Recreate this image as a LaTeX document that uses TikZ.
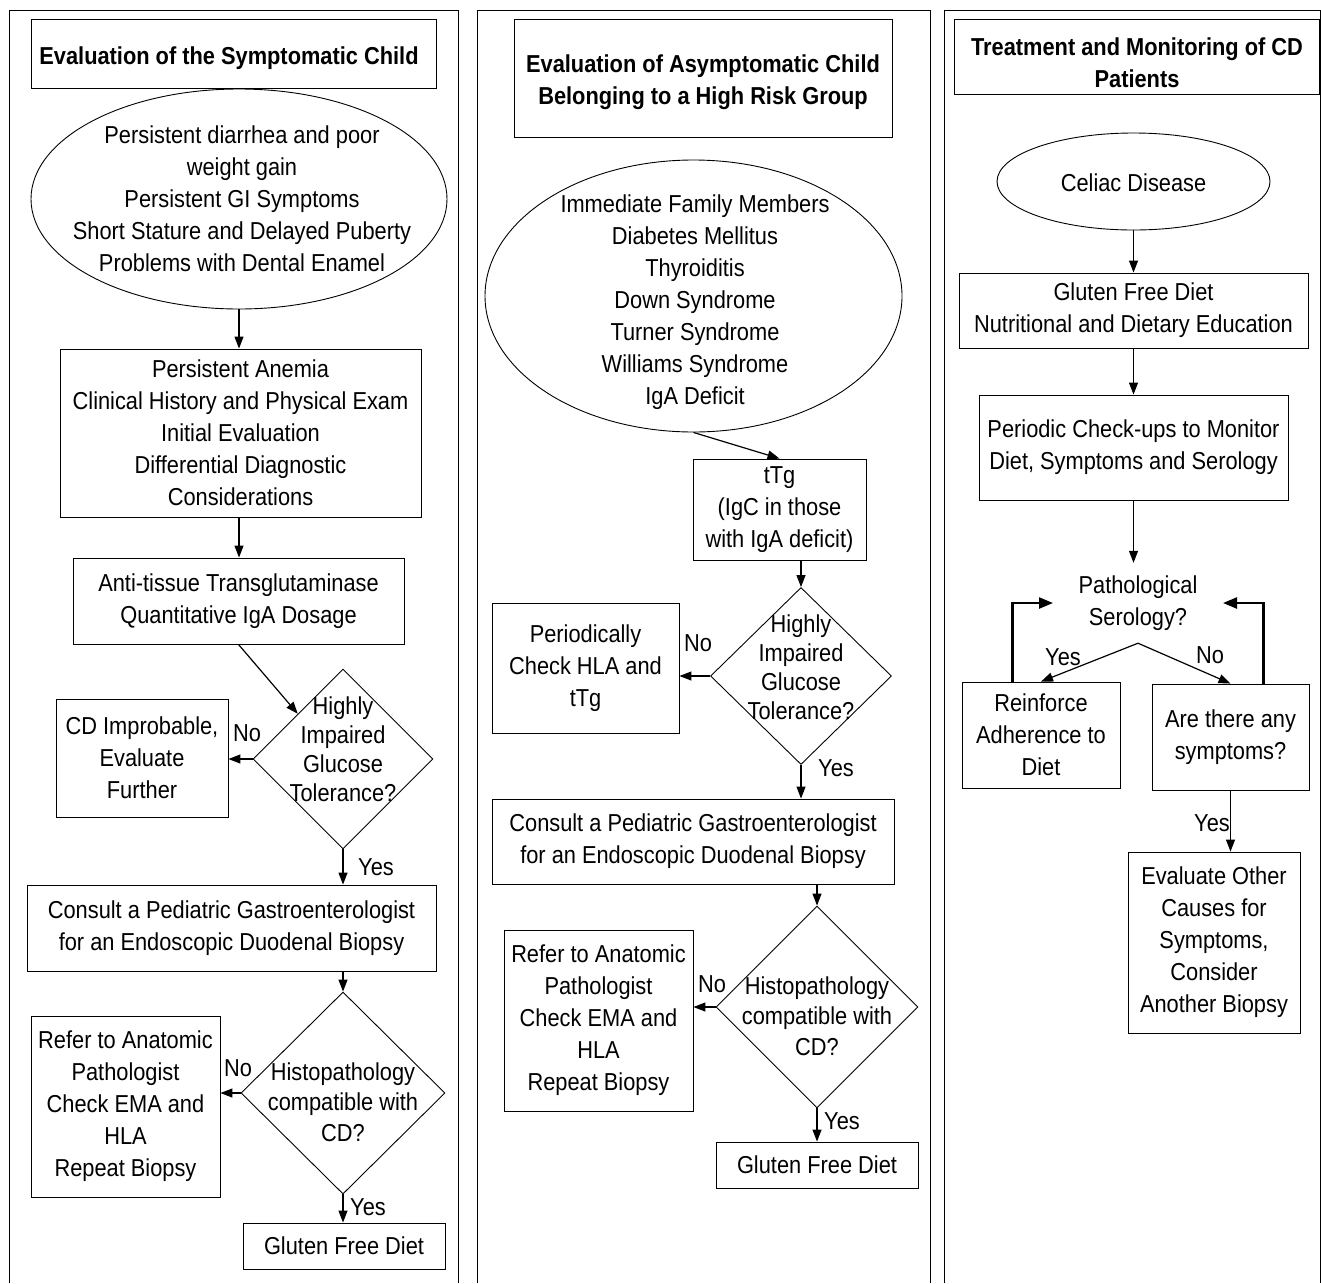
\documentclass[tikz,border=0pt]{standalone}
\usepackage{fontspec}
\setmainfont{Liberation Sans}[FakeStretch=0.89]
\usetikzlibrary{shapes.geometric,arrows.meta,calc}
\newcommand\mainsz{\fontsize{24.5}{32}\selectfont}
\newcommand\diasz{\fontsize{24.5}{29}\selectfont}
\newcommand\histsz{\fontsize{24.5}{30.5}\selectfont}
\begin{document}
\begin{tikzpicture}[x=1pt,y=-1pt,
  panel/.style={draw,line width=0.9pt},
  box/.style={draw,line width=0.9pt,rectangle,inner sep=0pt,align=center,font=\mainsz},
  ttxt/.style={inner sep=0pt,align=center,font=\mainsz\bfseries},
  ellshape/.style={draw,line width=0.9pt,ellipse,inner sep=0pt},
  dia/.style={draw,line width=0.9pt,diamond,inner sep=0pt},
  txt/.style={inner sep=0pt,align=center,font=\mainsz},
  dtxt/.style={inner sep=0pt,align=center,font=\diasz},
  htxt/.style={inner sep=0pt,align=center,font=\histsz},
  lbl/.style={inner sep=0pt,font=\mainsz},
  arr/.style={-{Triangle[length=12pt,width=9pt]},line width=1.2pt},
  thk/.style={-{Triangle[length=14pt,width=11pt]},line width=2.4pt}]
\useasboundingbox (0,0) rectangle (1321,1283);
\fill[white] (0,0) rectangle (1321,1283);

% ---------- Left panel ----------
\draw[panel] (9,1283) -- (9,10) -- (458,10) -- (458,1283);
\node[box,minimum width=405,minimum height=69] (t1) at (233.5,53.5) {};
\node[ttxt] (t1t) at (229,58) {Evaluation of the Symptomatic Child};
\node[ellshape,minimum width=416,minimum height=220] (e1) at (239,199) {};
\node[txt] (e1t) at (242,199) {Persistent diarrhea and poor\\weight gain\\Persistent GI Symptoms\\Short Stature and Delayed Puberty\\Problems with Dental Enamel};
\node[box,minimum width=361,minimum height=168] (b1) at (240.5,433) {Persistent Anemia\\Clinical History and Physical Exam\\Initial Evaluation\\Differential Diagnostic\\Considerations};
\node[box,minimum width=331,minimum height=86] (b2) at (238.5,601) {Anti-tissue Transglutaminase\\Quantitative IgA Dosage};
\node[dia,minimum width=180,minimum height=180] (d1) at (343,759) {};
\node[dtxt] (d1t) at (343,749) {Highly\\Impaired\\Glucose\\Tolerance?};
\node[box,minimum width=172,minimum height=118] (b3) at (142,758) {CD Improbable,\\Evaluate\\Further};
\node[box,minimum width=409,minimum height=86] (b4) at (231.5,928) {Consult a Pediatric Gastroenterologist\\for an Endoscopic Duodenal Biopsy};
\node[dia,minimum width=204,minimum height=202] (d2) at (343,1093) {};
\node[htxt] (d2t) at (343,1102) {Histopathology\\compatible with\\CD?};
\node[box,minimum width=189,minimum height=181] (b5) at (125.5,1106.5) {Refer to Anatomic\\Pathologist\\Check EMA and\\HLA\\Repeat Biopsy};
\node[box,minimum width=202,minimum height=46] (b6) at (344,1246) {Gluten Free Diet};

\draw[arr] (e1.south) -- (e1.south |- b1.north);
\draw[arr] (e1.south |- b1.south) -- (e1.south |- b2.north);
\draw[arr] (b2.south) -- (d1.north west);
\draw[arr] (d1.west) -- (d1.west -| b3.east);
\node[lbl] (n1) at (247,733) {No};
\draw[arr] (d1.south) -- (d1.south |- b4.north);
\node[lbl] (y1) at (376,867) {Yes};
\draw[arr] (d2.north |- b4.south) -- (d2.north);
\draw[arr] (d2.west) -- (d2.west -| b5.east);
\node[lbl] (n2) at (238,1068) {No};
\draw[arr] (d2.south) -- (d2.south |- b6.north);
\node[lbl] (y2) at (368,1207) {Yes};

% ---------- Middle panel ----------
\draw[panel] (477,1283) -- (477,10) -- (930,10) -- (930,1283);
\node[box,minimum width=378,minimum height=118] (t2) at (703,78) {};
\node[ttxt] (t2t) at (703,82) {Evaluation of Asymptomatic Child\\Belonging to a High Risk Group};
\node[ellshape,minimum width=417,minimum height=272] (e2) at (693.5,296) {};
\node[txt] (e2t) at (695,302) {Immediate Family Members\\Diabetes Mellitus\\Thyroiditis\\Down Syndrome\\Turner Syndrome\\Williams Syndrome\\IgA Deficit};
\node[box,minimum width=173,minimum height=101] (b7) at (779.5,509.5) {tTg\\(IgC in those\\with IgA deficit)};
\draw[arr] (e2.south) -- (b7.north);
\node[dia,minimum width=181,minimum height=177] (d3) at (801,676) {};
\node[dtxt] (d3t) at (801,667) {Highly\\Impaired\\Glucose\\Tolerance?};
\draw[arr] (d3.north |- b7.south) -- (d3.north);
\node[box,minimum width=187,minimum height=130] (b8) at (585.5,668) {Periodically\\Check HLA and\\tTg};
\draw[arr] (d3.west) -- (d3.west -| b8.east);
\node[lbl] (n3) at (698,643) {No};
\node[box,minimum width=402,minimum height=85] (b9) at (693,841.5) {Consult a Pediatric Gastroenterologist\\for an Endoscopic Duodenal Biopsy};
\draw[arr] (d3.south) -- (d3.south |- b9.north);
\node[lbl] (y3) at (836,768) {Yes};
\node[dia,minimum width=202,minimum height=202] (d4) at (817,1007) {};
\node[htxt] (d4t) at (817,1016) {Histopathology\\compatible with\\CD?};
\draw[arr] (d4.north |- b9.south) -- (d4.north);
\node[box,minimum width=189,minimum height=181] (b10) at (598.5,1020.5) {Refer to Anatomic\\Pathologist\\Check EMA and\\HLA\\Repeat Biopsy};
\draw[arr] (d4.west) -- (d4.west -| b10.east);
\node[lbl] (n4) at (712,984) {No};
\node[box,minimum width=202,minimum height=46] (b11) at (817,1165) {Gluten Free Diet};
\draw[arr] (d4.south) -- (b11.north);
\node[lbl] (y4) at (842,1121) {Yes};

% ---------- Right panel ----------
\draw[panel] (944,1283) -- (944,10) -- (1320,10) -- (1320,1283);
\node[box,minimum width=365,minimum height=75] (t3) at (1136.5,56.5) {};
\node[ttxt] (t3t) at (1137,63) {Treatment and Monitoring of CD\\Patients};
\node[ellshape,minimum width=273,minimum height=97] (e3) at (1133.5,181.5) {};
\node[txt] (e3t) at (1133.5,183) {Celiac Disease};
\node[box,minimum width=349,minimum height=75] (b12) at (1133.5,310.5) {Gluten Free Diet\\Nutritional and Dietary Education};
\draw[arr] (e3.south) -- (b12.north);
\node[box,minimum width=309,minimum height=105] (b13) at (1133.5,447.5) {Periodic Check-ups to Monitor\\Diet, Symptoms and Serology};
\draw[arr] (b12.south) -- (b13.north);
\node[txt,minimum height=80] (q) at (1138,603) {Pathological\\Serology?};
\draw[arr] (b13.south) -- (b13.south |- q.north);
\node[box,minimum width=158,minimum height=106] (b14) at (1041,735) {Reinforce\\Adherence to\\Diet};
\node[box,minimum width=157,minimum height=106] (b15) at (1230.5,737) {Are there any\\symptoms?};
\draw[arr] (q.south) -- (b14.north);
\draw[arr] (q.south) -- (b15.north);
\node[lbl] (y5) at (1063,657) {Yes};
\node[lbl] (n5) at (1210,655) {No};
\draw[thk] ($(b14.north west)+(51,0)$) |- ($(q.center)+(-85,0)$);
\draw[thk] ($(b15.north east)+(-46,0)$) |- ($(q.center)+(85,0)$);
\node[box,minimum width=172,minimum height=181] (b16) at (1214,942.5) {Evaluate Other\\Causes for\\Symptoms,\\Consider\\Another Biopsy};
\draw[arr] (b15.south) -- (b15.south |- b16.north);
\node[lbl] (y6) at (1212,823) {Yes};
\end{tikzpicture}
\end{document}
